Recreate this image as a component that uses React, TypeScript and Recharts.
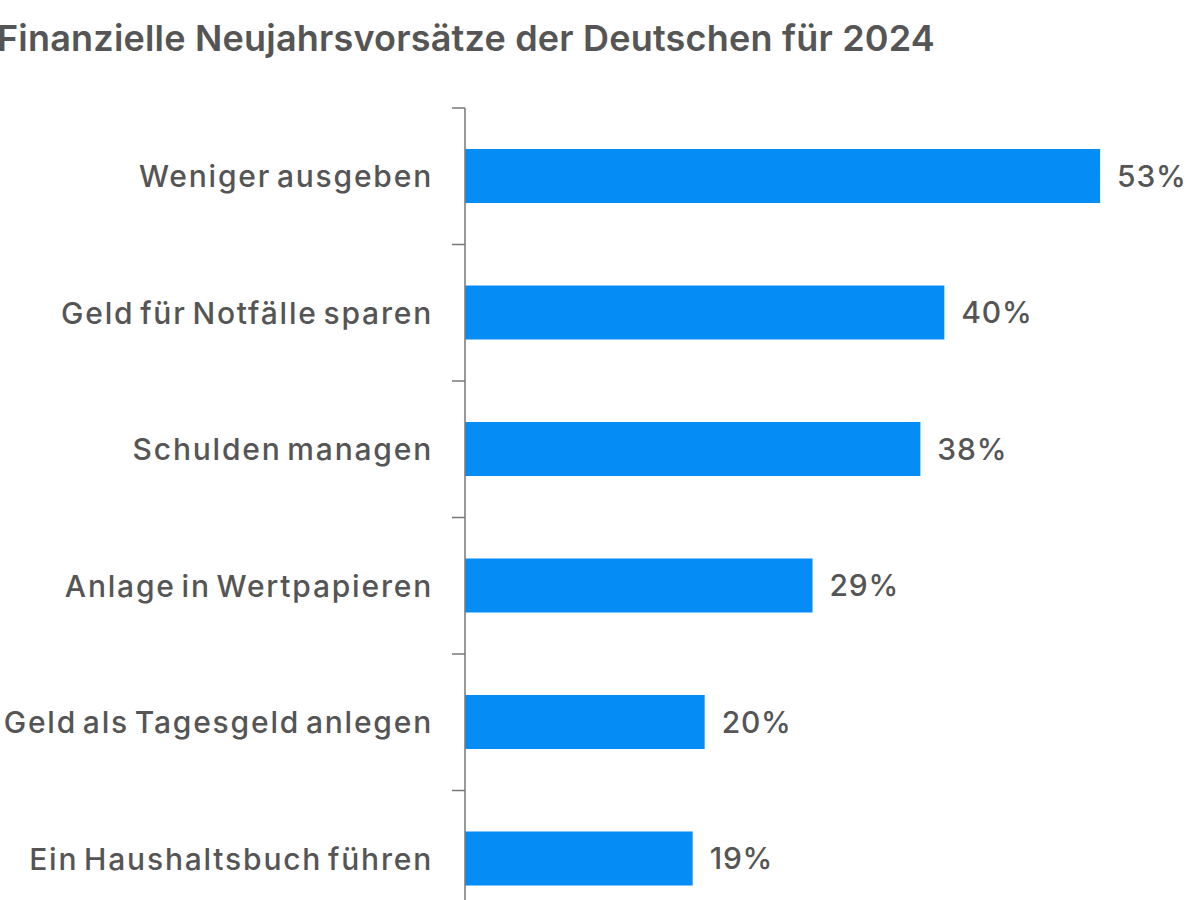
import { BarChart, Bar, XAxis, YAxis, LabelList } from "recharts";

const categories = [
  "Weniger ausgeben",
  "Geld für Notfälle sparen",
  "Schulden managen",
  "Anlage in Wertpapieren",
  "Geld als Tagesgeld anlegen",
  "Ein Haushaltsbuch führen",
];
const shares = [53, 40, 38, 29, 20, 19];

const chartData = categories.map((name, i) => ({ name, share: shares[i] }));

const WIDTH = 1200;
const HEIGHT = 940;
const MARGIN = { top: 108, right: 16, bottom: 13, left: 0 };
const AXIS_WIDTH = 465;
const BAND = (HEIGHT - MARGIN.top - MARGIN.bottom) / categories.length;
const TEXT = "#555555";
const FONT = "Inter, 'Noto Sans', sans-serif";

// label plus a short tick mark at the top edge of each band
const CategoryTick = (props: any) => {
  const { y, payload } = props;
  const axisX = MARGIN.left + AXIS_WIDTH;
  return (
    <g>
      <text
        x={axisX - 32}
        y={y}
        textAnchor="end"
        dominantBaseline="central"
        fill={TEXT}
        fontSize={30}
        fontWeight={500}
        fontFamily={FONT}
        letterSpacing={1.8}
        style={{ wordSpacing: -4 }}
      >
        {payload.value}
      </text>
      <line x1={axisX - 13} x2={axisX} y1={y - BAND / 2} y2={y - BAND / 2} stroke="#777" strokeWidth={1.5} />
    </g>
  );
};

export default function App() {
  return (
    <div style={{ position: "absolute", top: 0, left: 0, width: WIDTH, height: HEIGHT, background: "#fff" }}>
      <div
        style={{
          position: "absolute",
          left: -3,
          top: 16,
          fontFamily: FONT,
          fontSize: 36,
          fontWeight: 600,
          color: TEXT,
          letterSpacing: 0.2,
          whiteSpace: "nowrap",
        }}
      >
        Finanzielle Neujahrsvorsätze der Deutschen für 2024
      </div>
      <BarChart width={WIDTH} height={HEIGHT} data={chartData} layout="vertical" margin={MARGIN}>
        <XAxis type="number" domain={[0, 60]} hide />
        <YAxis
          type="category"
          dataKey="name"
          width={AXIS_WIDTH}
          axisLine={{ stroke: "#777", strokeWidth: 1.5 }}
          tickLine={false}
          tick={<CategoryTick />}
          interval={0}
        />
        <Bar dataKey="share" fill="#058cf5" barSize={54} isAnimationActive={false}>
          <LabelList
            dataKey="share"
            position="right"
            offset={17}
            formatter={(v: any) => `${v}%`}
            fill={TEXT}
            fontSize={30}
            fontWeight={500}
            fontFamily={FONT}
            letterSpacing={0.8}
          />
        </Bar>
      </BarChart>
    </div>
  );
}
